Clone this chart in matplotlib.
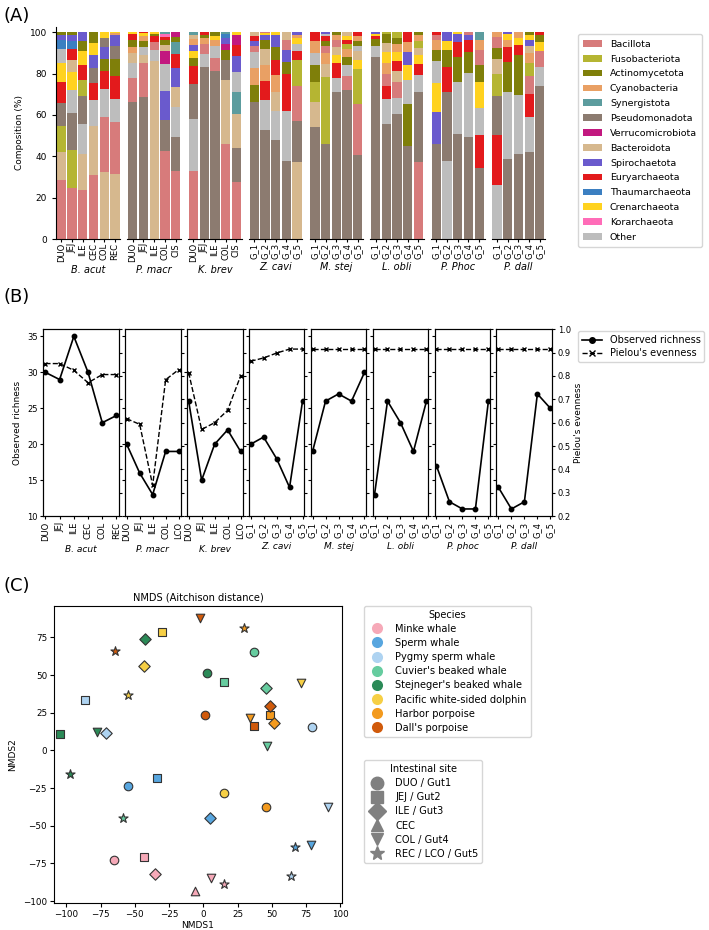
import numpy as np
import matplotlib
matplotlib.use('Agg')
import matplotlib.pyplot as plt
from matplotlib.patches import Patch
from matplotlib.lines import Line2D

# ---------------- data: panel A (relative abundance, %) ----------------
phyla = ['Bacillota', 'Fusobacteriota', 'Actinomycetota', 'Cyanobacteria', 'Synergistota',
         'Pseudomonadota', 'Verrucomicrobiota', 'Bacteroidota', 'Spirochaetota',
         'Euryarchaeota', 'Thaumarchaeota', 'Crenarchaeota', 'Korarchaeota', 'Other']
codes = ['Bac', 'Fus', 'Act', 'Cya', 'Syn', 'Pse', 'Ver', 'Bct', 'Spi', 'Eur', 'Tha', 'Cre', 'Kor', 'Oth']
phylum_colors = ['#d77b7b', '#b5b532', '#7f7f0a', '#e9a064', '#5c9c9e', '#8c7b70', '#c2187f',
                 '#d6b88e', '#6a5acd', '#e31a1c', '#3b7fc1', '#ffd21f', '#ff6cb8', '#bdbdbd']

groups_a = ['B. acut', 'P. macr', 'K. brev', 'Z. cavi', 'M. stej', 'L. obli', 'P. Phoc', 'P. dall']
g5 = ['G_1', 'G_2', 'G_3', 'G_4', 'G_5']
sites_a = [['DUO', 'JEJ', 'ILE', 'CEC', 'COL', 'REC'],
           ['DUO', 'JEJ', 'ILE', 'COL', 'CIS'],
           ['DUO', 'JEJ', 'ILE', 'COL', 'CIS'],
           g5, g5, g5, g5, g5]

bacut = [dict(Bac=28.7, Bct=13.3, Fus=12.4, Pse=11.3, Eur=10.1, Cre=9.2, Oth=7.0, Tha=4.0, Spi=2.4, Act=1.6),
         dict(Bac=24.6, Fus=18.3, Pse=18.0, Oth=11.2, Cre=8.4, Bct=6.1, Eur=5.2, Tha=4.0, Spi=2.6, Act=1.6),
         dict(Bac=23.5, Bct=17.5, Oth=14.6, Pse=13.3, Fus=8.1, Eur=7.2, Cre=6.9, Act=4.7, Spi=4.2),
         dict(Bac=31.0, Bct=23.5, Oth=12.5, Eur=8.5, Pse=7.0, Spi=6.5, Cre=5.6, Act=5.4),
         dict(Bct=32.5, Bac=26.5, Oth=13.5, Eur=8.5, Act=6.0, Spi=5.8, Pse=4.5, Cre=2.7),
         dict(Bct=31.5, Bac=25.0, Oth=11.3, Eur=11.2, Act=8.0, Pse=6.5, Spi=5.0, Cya=1.0, Cre=0.5)]
pmacr = [dict(Pse=66.0, Bac=12.0, Oth=7.0, Bct=5.0, Cya=3.0, Act=3.0, Eur=3.0, Cre=1.0),
         dict(Pse=68.5, Bac=16.5, Bct=4.0, Oth=4.0, Act=2.5, Cya=2.5, Cre=1.5, Eur=0.5),
         dict(Bct=86.0, Oth=5.5, Bac=3.5, Eur=3.0, Act=1.0, Cre=1.0),
         dict(Bac=42.5, Pse=15.0, Spi=14.0, Oth=13.0, Ver=6.5, Bct=3.0, Act=2.0, Eur=1.5, Kor=1.5, Syn=1.0),
         dict(Bac=33.0, Pse=16.5, Oth=14.5, Bct=9.5, Spi=9.0, Eur=7.0, Syn=5.5, Act=2.5, Ver=2.5)]
kbrev = [dict(Bac=33.0, Oth=25.0, Pse=17.0, Eur=8.5, Act=4.0, Cre=3.5, Spi=3.0, Cya=2.5, Bct=2.0, Syn=1.5),
         dict(Pse=83.0, Oth=6.5, Bac=5.0, Cya=2.5, Act=1.5, Eur=1.5),
         dict(Pse=81.0, Bac=6.3, Oth=6.2, Cya=2.5, Cre=2.0, Act=2.0),
         dict(Bac=46.0, Bct=31.0, Pse=9.5, Act=5.0, Ver=3.0, Spi=2.5, Tha=2.0, Syn=1.0),
         dict(Bac=27.5, Pse=16.5, Bct=16.5, Syn=10.5, Oth=9.5, Spi=8.0, Eur=5.5, Ver=4.5, Cre=1.5)]
zcavi = [dict(Pse=66.2, Act=8.2, Cya=8.2, Oth=7.7, Bac=2.8, Spi=2.7, Eur=2.2, Bct=2.0),
         dict(Pse=52.8, Oth=14.5, Eur=8.9, Cya=8.0, Bct=7.8, Act=4.3, Spi=2.1, Cre=1.0, Bac=0.6),
         dict(Pse=48.0, Oth=13.7, Bct=9.2, Cya=8.5, Eur=7.2, Act=6.4, Spi=5.4, Cre=1.6),
         dict(Pse=37.5, Oth=24.5, Eur=17.7, Act=6.1, Spi=5.7, Bac=4.8, Bct=3.7),
         dict(Bct=37.2, Pse=20.0, Bac=17.0, Fus=12.4, Eur=4.4, Oth=3.2, Cre=2.9, Cya=1.6, Spi=1.3)]
mstej = [dict(Pse=54.0, Bct=12.2, Fus=9.6, Act=8.1, Oth=6.0, Cya=5.6, Eur=4.5),
         dict(Pse=45.9, Fus=32.2, Bct=6.4, Cya=5.4, Bac=3.2, Act=2.7, Eur=2.1, Oth=1.2, Spi=0.9),
         dict(Pse=71.0, Oth=7.0, Eur=7.0, Cre=4.0, Bct=4.0, Bac=3.3, Cya=2.2, Act=1.5),
         dict(Pse=72.1, Bac=6.9, Oth=4.9, Act=4.0, Cya=4.0, Fus=2.3, Eur=2.0, Cre=1.9, Bct=1.9),
         dict(Pse=40.4, Bac=24.8, Fus=17.1, Cre=4.3, Bct=4.1, Oth=2.4, Act=2.4, Cya=2.4, Eur=2.1)]
lobli = [dict(Pse=88.0, Oth=5.2, Act=3.7, Eur=1.1, Cre=1.0, Spi=1.0),
         dict(Pse=55.4, Oth=12.1, Eur=6.4, Bac=5.8, Cya=5.5, Cre=5.3, Bct=4.3, Act=4.2, Fus=1.0),
         dict(Pse=60.4, Oth=8.0, Bac=7.6, Bct=5.05, Eur=5.05, Cre=4.4, Cya=4.0, Act=2.9, Fus=2.6),
         dict(Pse=44.9, Act=20.6, Oth=11.6, Cre=7.0, Spi=6.4, Cya=4.8, Eur=4.7),
         dict(Bac=37.0, Pse=34.2, Oth=8.0, Eur=5.3, Cre=4.4, Bct=3.5, Fus=3.4, Cya=2.7, Act=1.5)]
pphoc = [dict(Pse=45.9, Spi=15.5, Cre=13.8, Oth=10.9, Act=5.2, Cya=5.1, Bac=2.4, Eur=1.2),
         dict(Oth=37.8, Pse=33.4, Eur=12.1, Act=8.0, Cre=4.5, Spi=4.2),
         dict(Pse=50.7, Oth=25.3, Act=11.8, Eur=7.5, Spi=4.0, Cre=0.7),
         dict(Pse=49.4, Oth=31.0, Act=10.1, Eur=5.9, Spi=2.1, Bac=1.5),
         dict(Pse=34.5, Eur=15.7, Oth=12.9, Cre=12.9, Act=8.1, Bac=7.2, Cya=4.8, Syn=3.9)]
pdall = [dict(Oth=26.1, Eur=24.1, Pse=18.8, Fus=10.9, Bct=7.2, Act=5.2, Bac=5.2, Cya=2.5),
         dict(Pse=38.5, Oth=32.7, Act=14.5, Eur=7.3, Cya=3.1, Cre=2.8, Spi=1.1),
         dict(Pse=41.1, Oth=28.5, Act=19.3, Eur=4.9, Cre=3.3, Cya=2.9),
         dict(Pse=42.0, Oth=17.0, Eur=11.0, Bac=9.0, Fus=5.9, Cya=5.2, Bct=3.1, Spi=2.8, Cre=2.5, Act=1.5),
         dict(Pse=73.9, Oth=9.3, Bac=7.8, Cre=4.3, Act=3.2, Eur=1.5)]
comps_a = [bacut, pmacr, kbrev, zcavi, mstej, lobli, pphoc, pdall]

# ---------------- data: panel B (alpha diversity) ----------------
groups_b = ['B. acut', 'P. macr', 'K. brev', 'Z. cavi', 'M. stej', 'L. obli', 'P. phoc', 'P. dall']
sites_b = [['DUO', 'JEJ', 'ILE', 'CEC', 'COL', 'REC'],
           ['DUO', 'JEJ', 'ILE', 'COL', 'LCO'],
           ['DUO', 'JEJ', 'ILE', 'COL', 'LCO'],
           g5, g5, g5, g5, g5]
richness = [[30, 29, 35, 30, 23, 24],
            [20, 16, 13, 19, 19],
            [26, 15, 20, 22, 19],
            [20, 21, 18, 14, 26],
            [19, 26, 27, 26, 30],
            [13, 26, 23, 19, 26],
            [17, 12, 11, 11, 26],
            [14, 11, 12, 27, 25]]
evenness = [[0.853, 0.853, 0.824, 0.771, 0.806, 0.806],
            [0.617, 0.593, 0.332, 0.784, 0.827],
            [0.814, 0.571, 0.600, 0.653, 0.800],
            [0.863, 0.877, 0.898, 0.915, 0.915],
            [0.915, 0.915, 0.915, 0.915, 0.915],
            [0.915, 0.915, 0.915, 0.915, 0.915],
            [0.915, 0.915, 0.915, 0.915, 0.915],
            [0.915, 0.915, 0.915, 0.915, 0.915]]

# ---------------- data: panel C (NMDS) ----------------
species = ['Minke whale', 'Sperm whale', 'Pygmy sperm whale', "Cuvier's beaked whale",
           "Stejneger's beaked whale", 'Pacific white-sided dolphin', 'Harbor porpoise', "Dall's porpoise"]
species_colors = ['#f6a9b8', '#58a6df', '#aed3f1', '#66cc9f', '#2b8a57', '#f6cf45', '#f39a1e', '#d05a0b']
site_names = ['DUO / Gut1', 'JEJ / Gut2', 'ILE / Gut3', 'CEC', 'COL / Gut4', 'REC / LCO / Gut5']
site_markers = ['o', 's', 'D', '^', 'v', '*']
# one entry per sample: species index, site index, NMDS1, NMDS2
nmds_species = [0, 0, 0, 0, 0, 0,
                1, 1, 1, 1, 1,
                2, 2, 2, 2, 2,
                3, 3, 3, 3, 3,
                4, 4, 4, 4, 4,
                5, 5, 5, 5, 5,
                6, 6, 6, 6, 6,
                7, 7, 7, 7, 7]
nmds_site = [0, 1, 2, 3, 4, 5,
             0, 1, 2, 4, 5,
             0, 1, 2, 4, 5,
             0, 1, 2, 4, 5,
             0, 1, 2, 4, 5,
             0, 1, 2, 4, 5,
             0, 1, 2, 4, 5,
             0, 1, 2, 4, 5]
nmds1 = [-65.4, -43.0, -35.6, -6.2, 5.7, 14.9,
         -54.7, -33.6, 5.0, 78.4, 66.7,
         79.1, -86.3, -70.9, 90.8, 64.2,
         36.8, 14.9, 46.0, 46.3, -58.5,
         2.5, -104.5, -42.3, -77.9, -97.0,
         14.9, -29.9, -43.0, 71.4, -55.2,
         45.5, 48.5, 51.7, 34.0, 29.4,
         1.2, 37.3, 48.5, -2.5, -64.7]
nmds2 = [-72.8, -71.0, -82.0, -93.4, -84.5, -88.7,
         -23.7, -18.6, -45.1, -62.8, -64.4,
         15.7, 33.6, 11.5, -37.4, -83.2,
         65.5, 45.6, 41.6, 2.9, -44.7,
         51.5, 10.6, 73.7, 12.4, -15.9,
         -28.5, 78.3, 56.2, 44.5, 36.9,
         -37.4, 23.5, 18.4, 21.2, 81.0,
         23.2, 16.4, 29.4, 87.6, 66.2]

color_of = dict(zip(codes, phylum_colors))

fig = plt.figure(figsize=(7.09, 9.30), dpi=100)

# ================= panel A =================
gsA = fig.add_gridspec(1, 8, left=0.079, right=0.769, top=0.971, bottom=0.743,
                       width_ratios=[len(s) for s in sites_a], wspace=0.13)
for gi in range(8):
    ax = fig.add_subplot(gsA[0, gi])
    for si, sample in enumerate(comps_a[gi]):
        # largest phylum at the bottom of each bar
        items = sorted(sample.items(), key=lambda kv: -kv[1])
        bottom = 0.0
        for code, val in items:
            ax.bar(si, val, bottom=bottom, width=0.86, color=color_of[code], linewidth=0)
            bottom += val
    n = len(sites_a[gi])
    ax.set_xlim(-0.5, n - 0.5)
    ax.set_ylim(0, 102.5)
    ax.set_xticks(range(n))
    ax.set_xticklabels(sites_a[gi], rotation=90, fontsize=6)
    ax.set_xlabel(groups_a[gi], style='italic', fontsize=7, labelpad=2)
    ax.spines['top'].set_visible(False)
    ax.spines['right'].set_visible(False)
    ax.tick_params(axis='x', length=2, pad=1)
    if gi == 0:
        ax.set_yticks([0, 20, 40, 60, 80, 100])
        ax.tick_params(axis='y', labelsize=6.5, length=3)
        ax.set_ylabel('Composition (%)', fontsize=6.5)
    else:
        ax.spines['left'].set_visible(False)
        ax.set_yticks([])

handles_a = [Patch(facecolor=c, edgecolor='none', label=p) for p, c in zip(phyla, phylum_colors)]
fig.legend(handles=handles_a, loc='upper left', bbox_to_anchor=(0.809, 0.968), fontsize=6.8,
           labelspacing=0.62, handlelength=2.0, handletextpad=0.8, borderpad=0.55)

# ================= panel B =================
gsB = fig.add_gridspec(1, 8, left=0.061, right=0.779, top=0.646, bottom=0.445,
                       width_ratios=[1.35] + [1] * 7, wspace=0.105)
for gi in range(8):
    ax = fig.add_subplot(gsB[0, gi])
    n = len(sites_b[gi])
    x = np.arange(n)
    ax.plot(x, richness[gi], '-o', color='k', ms=3.2, lw=1.2)
    ax.set_ylim(10, 36)
    ax.set_yticks([10, 15, 20, 25, 30, 35])
    ax.set_xlim(-0.15, n - 0.85)
    ax.set_xticks(x)
    ax.set_xticklabels(sites_b[gi], rotation=90, fontsize=6)
    ax.set_xlabel(groups_b[gi], style='italic', fontsize=6.5, labelpad=3)
    ax.tick_params(axis='both', labelsize=6, length=2.5, pad=1.5)
    ax2 = ax.twinx()
    ax2.plot(x, evenness[gi], '--x', color='k', ms=3.2, lw=1.0)
    ax2.set_ylim(0.2, 1.0)
    ax2.set_yticks([0.2, 0.3, 0.4, 0.5, 0.6, 0.7, 0.8, 0.9, 1.0])
    ax2.set_yticklabels(['%.1f' % v for v in ax2.get_yticks()])
    ax2.tick_params(axis='y', labelsize=6, length=2.5, pad=1.5)
    if gi == 0:
        ax.set_ylabel('Observed richness', fontsize=6.5)
    else:
        ax.tick_params(labelleft=False)
    if gi == 7:
        ax2.set_ylabel("Pielou's evenness", fontsize=6.5, labelpad=2)
    else:
        ax2.tick_params(labelright=False)

handles_b = [Line2D([0], [0], color='k', marker='o', ms=4, lw=1.2, label='Observed richness'),
             Line2D([0], [0], color='k', marker='x', ms=4, lw=1.0, ls='--', label="Pielou's evenness")]
fig.legend(handles=handles_b, loc='upper left', bbox_to_anchor=(0.809, 0.649), fontsize=7,
           handlelength=2.0, labelspacing=0.3)

# ================= panel C =================
axC = fig.add_axes([0.0762, 0.0287, 0.4058, 0.32])
for sp, st, xv, yv in zip(nmds_species, nmds_site, nmds1, nmds2):
    m = site_markers[st]
    size = {'*': 48, 'D': 34}.get(m, 38)
    axC.scatter(xv, yv, s=size, marker=m, c=species_colors[sp],
                edgecolors='#333333', linewidths=0.8, zorder=3)
axC.set_xlim(-109, 101)
axC.set_ylim(-101.5, 96)
axC.set_xticks([-100, -75, -50, -25, 0, 25, 50, 75, 100])
axC.set_yticks([-100, -75, -50, -25, 0, 25, 50, 75])
axC.tick_params(labelsize=6.3, length=3, pad=2)
axC.set_xlabel('NMDS1', fontsize=6.5, labelpad=1)
axC.set_ylabel('NMDS2', fontsize=6.5)
axC.set_title('NMDS (Aitchison distance)', fontsize=7.1, pad=4)

handles_sp = [Line2D([0], [0], marker='o', ls='none', ms=8, markerfacecolor=c, markeredgecolor='none', label=s)
              for s, c in zip(species, species_colors)]
fig.legend(handles=handles_sp, title='Species', loc='upper left', bbox_to_anchor=(0.506, 0.354),
           fontsize=7.1, title_fontsize=7.1, labelspacing=0.42, handletextpad=0.8)
handles_st = [Line2D([0], [0], marker=m, ls='none', ms=9 if m != '*' else 10, color='#808080', label=s)
              for s, m in zip(site_names, site_markers)]
fig.legend(handles=handles_st, title='Intestinal site', loc='upper left', bbox_to_anchor=(0.506, 0.188),
           fontsize=7.1, title_fontsize=7.1, labelspacing=0.42, handletextpad=0.8)

# panel letters
fig.text(0.005, 0.993, '(A)', fontsize=13, va='top')
fig.text(0.005, 0.690, '(B)', fontsize=13, va='top')
fig.text(0.005, 0.380, '(C)', fontsize=13, va='top')

fig.savefig('out.png', dpi=100)
